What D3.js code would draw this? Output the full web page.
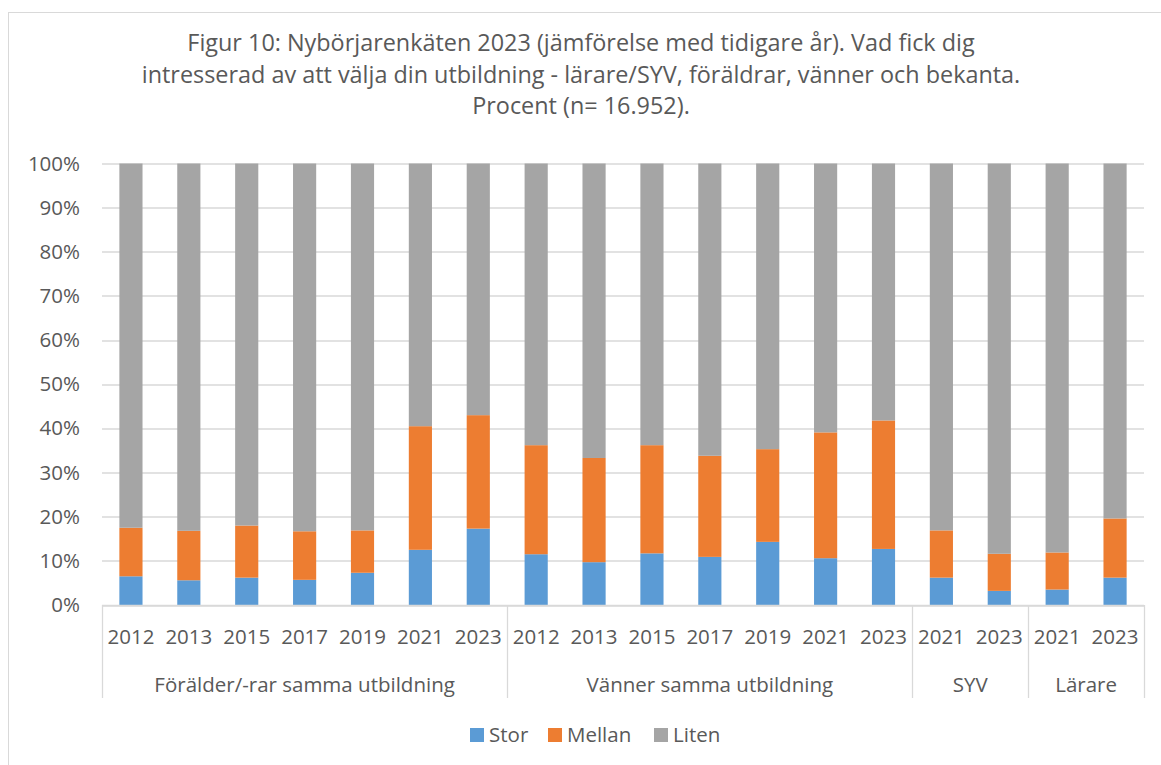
<!DOCTYPE html>
<html>
<head>
<meta charset="utf-8">
<script src="https://cdn.jsdelivr.net/npm/d3@7"></script>
<style>
  body { margin: 0; background: #fff; }
  svg text { font-family: "Open Sans", sans-serif; fill: #595959; }
</style>
</head>
<body>
<svg id="chart" width="1161" height="765"></svg>
<script>
var titleLines = [
  "Figur 10: Nybörjarenkäten 2023 (jämförelse med tidigare år). Vad fick dig",
  "intresserad av att välja din utbildning - lärare/SYV, föräldrar, vänner och bekanta.",
  "Procent (n= 16.952)."
];
var groups = ["Förälder/-rar samma utbildning", "Vänner samma utbildning", "SYV", "Lärare"];
var groupYears = [
  ["2012", "2013", "2015", "2017", "2019", "2021", "2023"],
  ["2012", "2013", "2015", "2017", "2019", "2021", "2023"],
  ["2021", "2023"],
  ["2021", "2023"]
];
var stor   = [6.5, 5.6, 6.2, 5.7, 7.3, 12.5, 17.3,  11.5, 9.7, 11.7, 10.9, 14.3, 10.6, 12.7,  6.2, 3.2,  3.5, 6.2];
var mellan = [11.0, 11.2, 11.8, 11.0, 9.6, 28.0, 25.7,  24.7, 23.6, 24.5, 22.9, 21.0, 28.5, 29.1,  10.7, 8.4,  8.4, 13.4];
var liten  = stor.map((s, i) => 100 - s - mellan[i]);
var seriesNames = ["Stor", "Mellan", "Liten"];
var yTicks = [0, 10, 20, 30, 40, 50, 60, 70, 80, 90, 100];

var
  margin = {top: 163.5, right: 17, bottom: 160, left: 102},
  W = 1161, H = 765,
  width = W - margin.left - margin.right,
  height = H - margin.top - margin.bottom,
  colors = d3.scaleOrdinal(seriesNames, ['#5b9bd5', '#ed7d31', '#a5a5a5']),
  gridColor = '#d9d9d9';

// flat list of categories, one per bar
var cats = [];
groupYears.forEach((ys, gi) => ys.forEach(y => cats.push({group: gi, year: y, key: gi + '_' + y})));
var rows = cats.map((c, i) => ({key: c.key, Stor: stor[i], Mellan: mellan[i], Liten: liten[i]}));

var svg = d3.select('#chart');

svg.append('rect')
  .attr('x', 8.5).attr('y', 12.5)
  .attr('width', 1200).attr('height', 800)
  .attr('fill', '#fff')
  .attr('stroke', gridColor);

svg.append('g')
  .selectAll('text')
  .data(titleLines)
  .enter().append('text')
  .attr('x', 581)
  .attr('y', (d, i) => 51 + i * 31.5)
  .attr('text-anchor', 'middle')
  .style('font-size', '23.4px')
  .text(d => d);

var g = svg.append('g').attr('transform', 'translate(' + margin.left + ',' + margin.top + ')');

var xScale = d3.scaleBand()
  .domain(cats.map(c => c.key))
  .range([0, width])
  .paddingInner(0.6)
  .paddingOuter(0.3);

var yScale = d3.scaleLinear()
  .domain([0, 100])
  .range([height, 0]);

// gridlines
g.append('g')
  .selectAll('line')
  .data(yTicks)
  .enter().append('line')
  .attr('x1', 0).attr('x2', width)
  .attr('y1', d => Math.round(yScale(d)) + 0.5)
  .attr('y2', d => Math.round(yScale(d)) + 0.5)
  .attr('stroke', gridColor)
  .attr('stroke-width', 1.3);

var yAxis = d3.axisLeft(yScale).tickValues(yTicks).tickFormat(d => d + '%').tickSize(0).tickPadding(22);
g.append('g')
  .attr('class', 'axis axis--y')
  .call(yAxis)
  .call(a => a.select('.domain').remove())
  .selectAll('text')
  .style('font-size', '20.5px');

// stacked bars
var stack = d3.stack().keys(seriesNames);
var layers = g.selectAll('.layer')
  .data(stack(rows))
  .enter().append('g')
  .attr('class', 'layer')
  .attr('fill', d => colors(d.key));

layers.selectAll('rect')
  .data(d => d)
  .enter().append('rect')
  .attr('x', d => xScale(d.data.key))
  .attr('width', xScale.bandwidth())
  .attr('y', d => yScale(d[1]))
  .attr('height', d => yScale(d[0]) - yScale(d[1]));

// category axis
g.append('line')
  .attr('x1', 0).attr('x2', width)
  .attr('y1', height + 0.5).attr('y2', height + 0.5)
  .attr('stroke', gridColor)
  .attr('stroke-width', 1.3);

var step = xScale.step();
g.append('g')
  .selectAll('text')
  .data(cats)
  .enter().append('text')
  .attr('x', d => xScale(d.key) + xScale.bandwidth() / 2)
  .attr('y', height + 39)
  .attr('text-anchor', 'middle')
  .style('font-size', '20.5px')
  .text(d => d.year);

// group boundaries and labels
var bounds = [0];
groupYears.forEach(ys => bounds.push(bounds[bounds.length - 1] + ys.length));

g.append('g')
  .selectAll('line')
  .data(bounds)
  .enter().append('line')
  .attr('x1', d => Math.round(d * step) + 0.5)
  .attr('x2', d => Math.round(d * step) + 0.5)
  .attr('y1', height)
  .attr('y2', height + 93)
  .attr('stroke', gridColor)
  .attr('stroke-width', 1.3);

g.append('g')
  .selectAll('text')
  .data(groups)
  .enter().append('text')
  .attr('x', (d, i) => (bounds[i] + bounds[i + 1]) / 2 * step)
  .attr('y', height + 87)
  .attr('text-anchor', 'middle')
  .style('font-size', '20.5px')
  .text(d => d);

// legend
var legendX = [470, 548, 654];
var legend = svg.append('g')
  .selectAll('g')
  .data(seriesNames)
  .enter().append('g')
  .attr('transform', (d, i) => 'translate(' + legendX[i] + ',728)');
legend.append('rect')
  .attr('width', 14).attr('height', 14)
  .attr('fill', d => colors(d));
legend.append('text')
  .attr('x', 19).attr('y', 14)
  .style('font-size', '20.5px')
  .text(d => d);
</script>
</body>
</html>
